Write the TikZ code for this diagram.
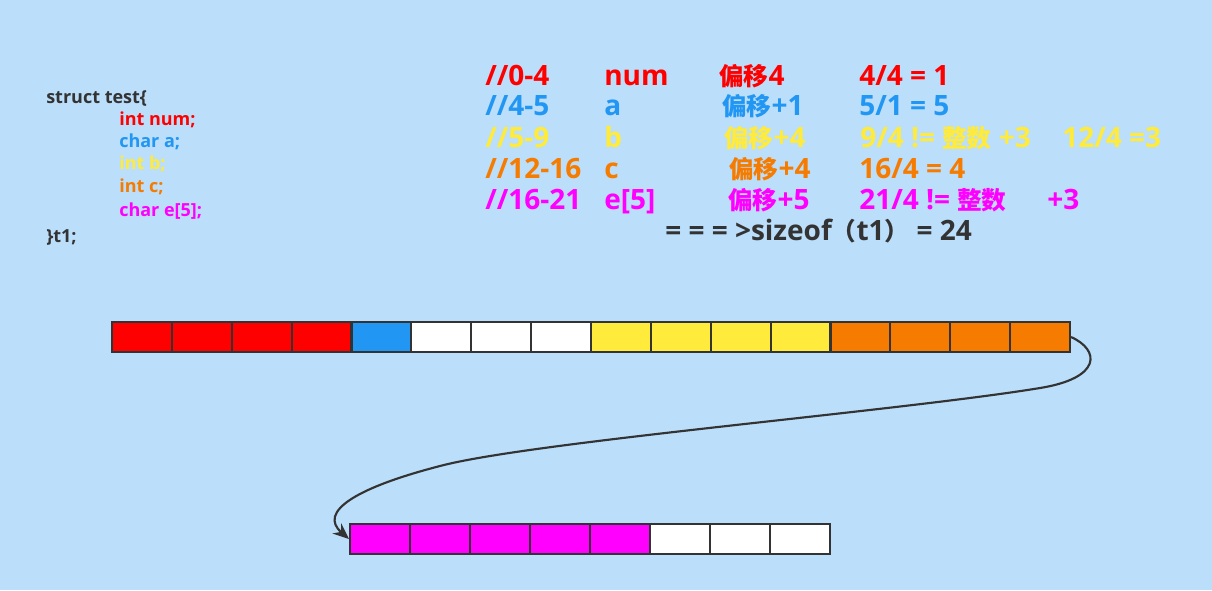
\documentclass[tikz,border=0pt]{standalone}
\usepackage{fontspec}
\setmainfont{Open Sans}
\newfontfamily\cjk[Scale=0.88]{Noto Sans CJK SC}
\usetikzlibrary{arrows.meta}
\definecolor{bg}{RGB}{187,222,250}
\definecolor{cred}{RGB}{255,0,0}
\definecolor{cblue}{RGB}{33,150,243}
\definecolor{cyellow}{RGB}{255,235,59}
\definecolor{corange}{RGB}{245,124,0}
\definecolor{cmag}{RGB}{255,0,255}
\definecolor{dark}{RGB}{51,51,51}
\begin{document}
\begin{tikzpicture}[x=0.75pt,y=-0.75pt,
  txt/.style={anchor=west,inner sep=0,font=\fontsize{21}{23}\selectfont\bfseries,text height=0.8em,text depth=0.2em},
  code/.style={anchor=west,inner sep=0,font=\fontsize{13.5}{15}\selectfont\bfseries,text height=0.8em,text depth=0.2em},
  cell/.style={draw=dark,line width=1.6pt,minimum width=44.9pt,minimum height=22.5pt,inner sep=0},
  conn/.style={draw=dark,line width=1.6pt,-{Stealth[length=12pt,width=10pt]}}]
\fill[bg] (0,0) rectangle (1212,590);
\useasboundingbox (0,0) rectangle (1212,590);
% code
\node[code,text=dark] (s0) at (46,99) {struct test\{};
\node[code,text=cred] (s1) at (119,121) {int num;};
\node[code,text=cblue] (s2) at (119,143) {char a;};
\node[code,text=cyellow] (s3) at (119,165) {int b;};
\node[code,text=corange] (s4) at (119,188) {int c;};
\node[code,text=cmag] (s5) at (119,212) {char e[5];};
\node[code,text=dark] (s6) at (46,238) {\}t1;};
% table
\node[txt,text=cred] (a1) at (485,81) {//0-4};
\node[txt,text=cred] (b1t) at (604,81) {num};
\node[txt,text=cred] (c1) at (719,81) {{\cjk\bfseries 偏移}4};
\node[txt,text=cred] (d1) at (859,81) {4/4 = 1};
\node[txt,text=cblue] (a2) at (485,111) {//4-5};
\node[txt,text=cblue] (b2t) at (604,111) {a};
\node[txt,text=cblue] (c2) at (722,111) {{\cjk\bfseries 偏移}+1};
\node[txt,text=cblue] (d2) at (859,111) {5/1 = 5};
\node[txt,text=cyellow] (a3) at (485,143) {//5-9};
\node[txt,text=cyellow] (b3t) at (604,143) {b};
\node[txt,text=cyellow] (c3) at (724,143) {{\cjk\bfseries 偏移}+4};
\node[txt,text=cyellow] (d3) at (860,143) {9/4 != {\cjk\bfseries 整数} +3};
\node[txt,text=cyellow] (e3) at (1062,143) {12/4 =3};
\node[txt,text=corange] (a4) at (485,174) {//12-16};
\node[txt,text=corange] (b4t) at (604,174) {c};
\node[txt,text=corange] (c4) at (729,174) {{\cjk\bfseries 偏移}+4};
\node[txt,text=corange] (d4) at (859,174) {16/4 = 4};
\node[txt,text=cmag] (a5) at (485,205) {//16-21};
\node[txt,text=cmag] (b5t) at (604,205) {e[5]};
\node[txt,text=cmag] (c5) at (728,205) {{\cjk\bfseries 偏移}+5};
\node[txt,text=cmag] (d5) at (859,205) {21/4 != {\cjk\bfseries 整数}};
\node[txt,text=cmag] (e5) at (1047,205) {+3};
\node[txt,text=dark] (sz) at (665,236) {= = = >sizeof{\cjk\bfseries （}t1{\cjk\bfseries ）} = 24};
% top row
\foreach \i/\c in {1/cred,2/cred,3/cred,4/cred,5/cblue,6/white,7/white,8/white,9/cyellow,10/cyellow,11/cyellow,12/cyellow,13/corange,14/corange,15/corange,16/corange}{
  \node[cell,fill=\c] (t\i) at ({112+59.875*(\i-0.5)},337) {};
}
% bottom row
\foreach \i/\c in {1/cmag,2/cmag,3/cmag,4/cmag,5/cmag,6/white,7/white,8/white}{
  \node[cell,fill=\c] (b\i) at ({350+60*(\i-0.5)},539) {};
}
\draw[conn] (t16.east) .. controls (1100,350) and (1102,378) .. (1040,388)
  .. controls (900,411) and (530,442) .. (440,466)
  .. controls (355,488) and (318,512) .. (b1.west);
\end{tikzpicture}
\end{document}
